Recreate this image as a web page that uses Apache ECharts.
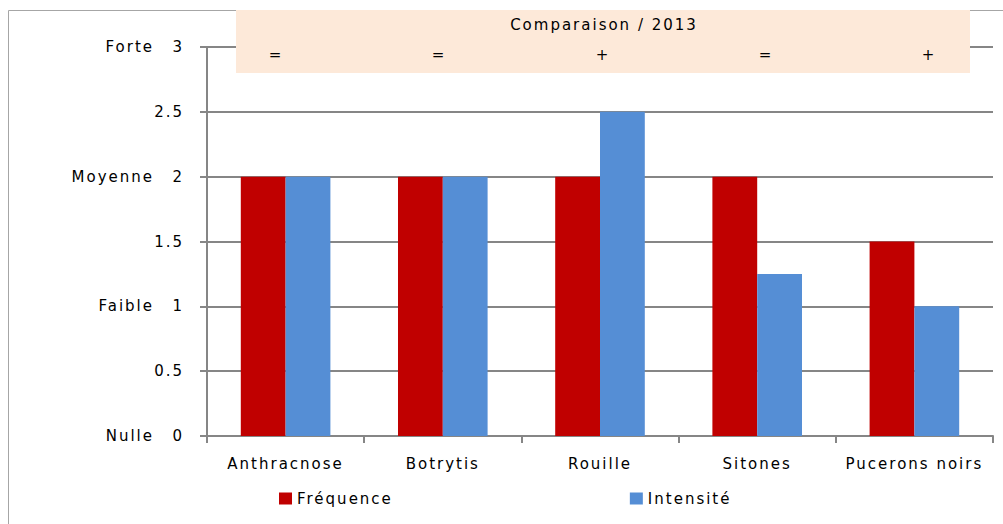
<!DOCTYPE html>
<html>
<head>
<meta charset="utf-8">
<script src="https://cdn.jsdelivr.net/npm/echarts@6/dist/echarts.min.js"></script>
<style>
html,body{margin:0;padding:0;background:#fff;}
#c{width:1003px;height:524px;}
#c svg text{letter-spacing:2px;}
</style>
</head>
<body>
<div id="c"></div>
<script>
var categories = ['Anthracnose', 'Botrytis', 'Rouille', 'Sitones', 'Pucerons noirs'];
var frequence = [2, 2, 2, 2, 1.5];
var intensite = [2, 2, 2.5, 1.25, 1];
var levelLabels = {3: 'Forte', 2: 'Moyenne', 1: 'Faible', 0: 'Nulle'};
var comparaison = ['=', '=', '+', '=', '+'];
var comparaisonTitle = 'Comparaison / 2013';

var FONT = "'DejaVu Sans', sans-serif";
var FS = 15;
var chart = echarts.init(document.getElementById('c'), null, {renderer: 'svg'});
var compX = [276, 439, 603, 766, 929];
var graphics = [
  {type: 'rect', z: -10, silent: true, shape: {x: 8.5, y: 10.5, width: 1100, height: 600}, style: {fill: 'none', stroke: '#a6a6a6', lineWidth: 1}},
  {type: 'rect', z: 50, shape: {x: 236, y: 10, width: 734, height: 63}, style: {fill: '#fde9d9'}},
  {type: 'text', z: 51, x: 604, y: 25, style: {text: comparaisonTitle, font: FS + 'px ' + FONT, fill: '#000', align: 'center', verticalAlign: 'middle'}}
];
comparaison.forEach(function (s, i) {
  graphics.push({type: 'text', z: 51, x: compX[i], y: 55, style: {text: s, font: FS + 'px ' + FONT, fill: '#000', align: 'center', verticalAlign: 'middle'}});
});

chart.setOption({
  animation: false,
  textStyle: {fontFamily: FONT},
  grid: {left: 207, right: 10, top: 47, bottom: 88, containLabel: false},
  legend: {
    left: 279, top: 491, padding: 0, itemGap: 255, itemWidth: 13, itemHeight: 12, icon: 'rect',
    itemStyle: {borderWidth: 0},
    textStyle: {fontSize: FS, color: '#000', fontFamily: FONT},
    data: ['Fréquence', 'Intensité']
  },
  graphic: graphics,
  xAxis: {
    type: 'category', data: categories,
    axisLine: {lineStyle: {color: '#868686', width: 2}},
    axisTick: {show: true, length: 7, lineStyle: {color: '#868686', width: 2}},
    axisLabel: {fontSize: FS, color: '#000', margin: 20, fontFamily: FONT}
  },
  yAxis: [{
    type: 'value', min: 0, max: 3, interval: 0.5,
    axisLine: {show: true, lineStyle: {color: '#868686', width: 2}},
    axisTick: {show: true, length: 7, lineStyle: {color: '#868686', width: 2}},
    splitLine: {lineStyle: {color: '#868686', width: 2}},
    axisLabel: {fontSize: FS, color: '#000', margin: 23, fontFamily: FONT}
  }, {
    type: 'value', min: 0, max: 3, interval: 1, position: 'left',
    axisLine: {show: false}, axisTick: {show: false}, splitLine: {show: false},
    axisLabel: {fontSize: FS, color: '#000', margin: 53, fontFamily: FONT,
      formatter: function (v) { return levelLabels[v] || ''; }}
  }],
  series: [
    {name: 'Fréquence', type: 'bar', data: frequence, itemStyle: {color: '#c00000'}, barGap: '0%', barCategoryGap: '43%'},
    {name: 'Intensité', type: 'bar', data: intensite, itemStyle: {color: '#558ed5'}, barGap: '0%', barCategoryGap: '43%'}
  ]
});
</script>
</body>
</html>
